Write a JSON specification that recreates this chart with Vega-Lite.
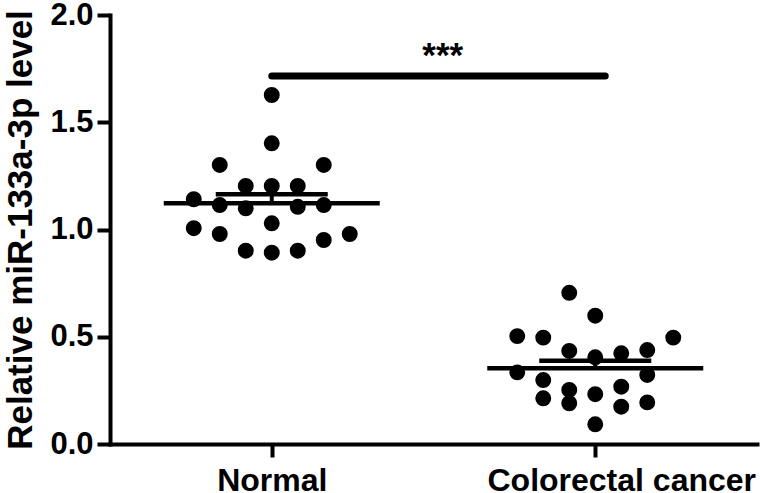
{
  "$schema": "https://vega.github.io/schema/vega-lite/v6.json",
  "width": 647,
  "height": 429,
  "autosize": {"type": "none"},
  "padding": {"left": 110, "top": 15, "right": 3, "bottom": 49},
  "background": "white",
  "config": {
    "view": {"stroke": null},
    "font": "Liberation Sans",
    "axis": {
      "grid": false,
      "domainColor": "black",
      "domainWidth": 4,
      "domainCap": "square",
      "tickColor": "black",
      "tickWidth": 4,
      "tickSize": 13,
      "labelColor": "black",
      "labelFont": "Liberation Sans",
      "labelFontWeight": "bold",
      "labelLimit": 0,
      "titleColor": "black",
      "titleFont": "Liberation Sans",
      "titleFontWeight": "bold"
    }
  },
  "datasets": {
    "points": [
      {"group": "Normal", "slot": 0, "value": 1.627},
      {"group": "Normal", "slot": 0, "value": 1.402},
      {"group": "Normal", "slot": 0, "value": 1.203},
      {"group": "Normal", "slot": 0, "value": 1.029},
      {"group": "Normal", "slot": 0, "value": 0.892},
      {"group": "Normal", "slot": -2, "value": 1.301},
      {"group": "Normal", "slot": -2, "value": 1.114},
      {"group": "Normal", "slot": -2, "value": 0.979},
      {"group": "Normal", "slot": 2, "value": 1.301},
      {"group": "Normal", "slot": 2, "value": 1.114},
      {"group": "Normal", "slot": 2, "value": 0.951},
      {"group": "Normal", "slot": -1, "value": 1.203},
      {"group": "Normal", "slot": -1, "value": 1.099},
      {"group": "Normal", "slot": -1, "value": 0.901},
      {"group": "Normal", "slot": 1, "value": 1.203},
      {"group": "Normal", "slot": 1, "value": 1.106},
      {"group": "Normal", "slot": 1, "value": 0.901},
      {"group": "Normal", "slot": -3, "value": 1.141},
      {"group": "Normal", "slot": -3, "value": 1.006},
      {"group": "Normal", "slot": 3, "value": 0.979},
      {"group": "Colorectal cancer", "slot": -1, "value": 0.705},
      {"group": "Colorectal cancer", "slot": 0, "value": 0.598},
      {"group": "Colorectal cancer", "slot": -3, "value": 0.503},
      {"group": "Colorectal cancer", "slot": -2, "value": 0.496},
      {"group": "Colorectal cancer", "slot": 3, "value": 0.496},
      {"group": "Colorectal cancer", "slot": -1, "value": 0.434},
      {"group": "Colorectal cancer", "slot": 0, "value": 0.404},
      {"group": "Colorectal cancer", "slot": 1, "value": 0.423},
      {"group": "Colorectal cancer", "slot": 2, "value": 0.438},
      {"group": "Colorectal cancer", "slot": -3, "value": 0.334},
      {"group": "Colorectal cancer", "slot": 2, "value": 0.322},
      {"group": "Colorectal cancer", "slot": -2, "value": 0.298},
      {"group": "Colorectal cancer", "slot": -1, "value": 0.252},
      {"group": "Colorectal cancer", "slot": 1, "value": 0.267},
      {"group": "Colorectal cancer", "slot": -2, "value": 0.213},
      {"group": "Colorectal cancer", "slot": -1, "value": 0.19},
      {"group": "Colorectal cancer", "slot": 0, "value": 0.232},
      {"group": "Colorectal cancer", "slot": 1, "value": 0.174},
      {"group": "Colorectal cancer", "slot": 2, "value": 0.194},
      {"group": "Colorectal cancer", "slot": 0, "value": 0.092}
    ],
    "sig": [
      {"from": "Normal", "to": "Colorectal cancer", "value": 1.716, "label": "***"}
    ]
  },
  "layer": [
    {
      "data": {"name": "points"},
      "mark": {"type": "circle", "size": 254, "color": "black", "opacity": 1},
      "encoding": {
        "x": {
          "field": "group",
          "type": "nominal",
          "sort": null,
          "scale": {"type": "point", "domain": ["Normal", "Colorectal cancer"], "padding": 0.5},
          "axis": {
            "title": null,
            "labelAngle": 0,
            "labelFontSize": 32,
            "labelPadding": 8,
            "labelOffset": {"condition": {"test": "datum.value === 'Colorectal cancer'", "value": 26}, "value": 0}
          }
        },
        "xOffset": {
          "field": "slot",
          "type": "ordinal",
          "scale": {"type": "point", "domain": [-3, -2, -1, 0, 1, 2, 3], "range": [-78, 78], "padding": 0}
        },
        "y": {
          "field": "value",
          "type": "quantitative",
          "scale": {"domain": [0, 2], "nice": false},
          "axis": {
            "title": "Relative miR-133a-3p level",
            "titleFontSize": 35,
            "titlePadding": 11,
            "values": [0, 0.5, 1, 1.5, 2],
            "format": ".1f",
            "labelFontSize": 31,
            "labelPadding": 4
          }
        }
      }
    },
    {
      "data": {"name": "points"},
      "transform": [
        {"aggregate": [{"op": "mean", "field": "value", "as": "mean"}, {"op": "stderr", "field": "value", "as": "se"}], "groupby": ["group"]},
        {"calculate": "datum.mean + datum.se", "as": "hi"}
      ],
      "layer": [
        {
          "mark": {"type": "tick", "size": 216, "thickness": 4.5, "color": "black", "opacity": 1},
          "encoding": {
            "x": {"field": "group", "type": "nominal"},
            "y": {"field": "mean", "type": "quantitative"}
          }
        },
        {
          "mark": {"type": "tick", "size": 112, "thickness": 4.5, "color": "black", "opacity": 1},
          "encoding": {
            "x": {"field": "group", "type": "nominal"},
            "y": {"field": "hi", "type": "quantitative"}
          }
        },
        {
          "mark": {"type": "rule", "strokeWidth": 4, "color": "black"},
          "encoding": {
            "x": {"field": "group", "type": "nominal"},
            "y": {"field": "mean", "type": "quantitative"},
            "y2": {"field": "hi"}
          }
        }
      ]
    },
    {
      "data": {"name": "sig"},
      "mark": {"type": "rule", "strokeWidth": 7, "strokeCap": "round", "color": "black", "x2Offset": 10},
      "encoding": {
        "x": {"field": "from", "type": "nominal"},
        "x2": {"field": "to"},
        "y": {"field": "value", "type": "quantitative"}
      }
    },
    {
      "data": {"name": "sig"},
      "mark": {"type": "text", "fontSize": 35, "fontWeight": "bold", "font": "Liberation Sans", "color": "black", "align": "center", "baseline": "alphabetic", "dx": 171, "dy": -9},
      "encoding": {
        "x": {"field": "from", "type": "nominal"},
        "y": {"field": "value", "type": "quantitative"},
        "text": {"field": "label"}
      }
    }
  ]
}
